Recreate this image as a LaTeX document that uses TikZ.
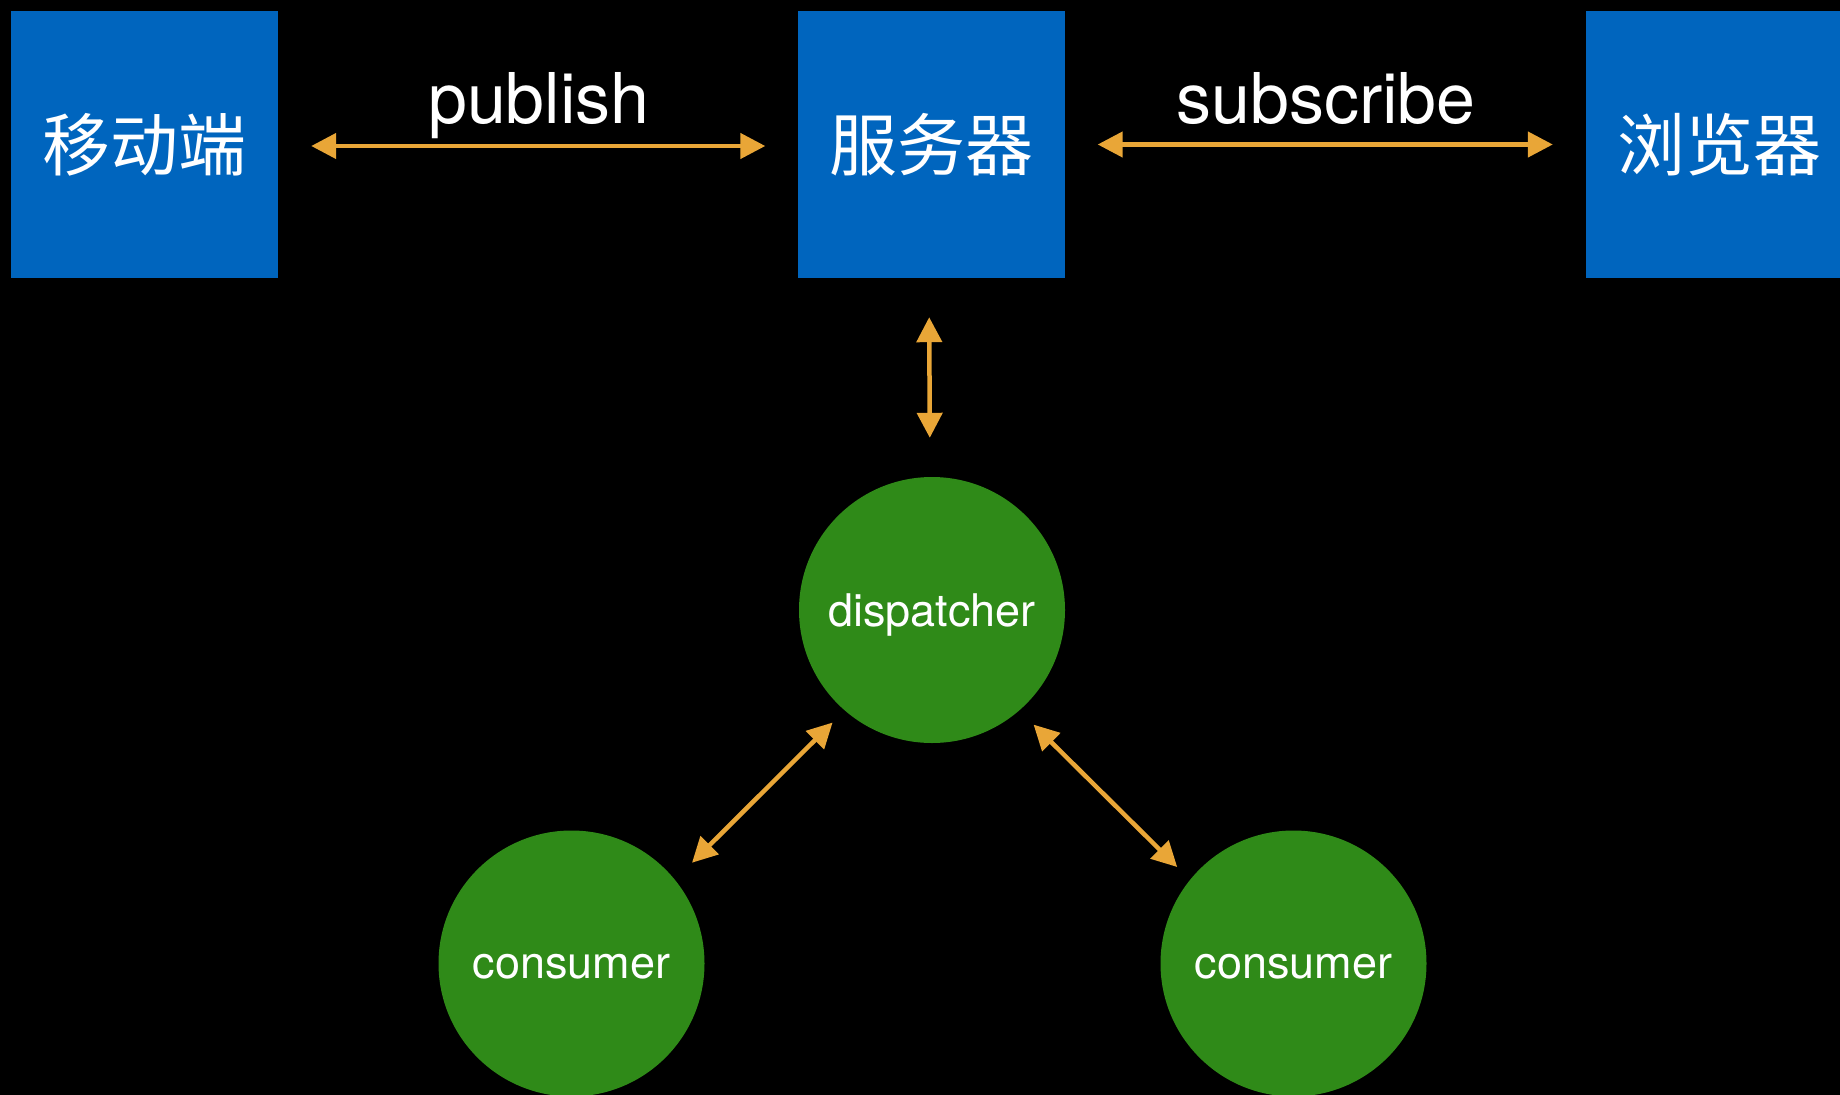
\documentclass[tikz,border=0pt]{standalone}
\usepackage{fontspec}
\setmainfont{TeX Gyre Heros}
\newfontfamily\cjk{Noto Sans CJK SC}
\usetikzlibrary{arrows.meta}
\definecolor{boxblue}{RGB}{0,101,190}
\definecolor{nodegreen}{RGB}{47,138,24}
\definecolor{arroworange}{RGB}{233,166,55}
\newcommand{\lowertext}[2]{\raisebox{-#1}[\height][\depth]{#2}}
\tikzset{
  blockbox/.style={fill=boxblue, draw=none, minimum width=267pt, minimum height=267pt, inner sep=0pt,
    text=white, font=\cjk\fontsize{68}{80}\selectfont},
  roundnode/.style={circle, fill=nodegreen, draw=none, minimum size=266pt, inner sep=0pt,
    text=white, font=\fontsize{45}{54}\selectfont},
  linklabel/.style={text=white, font=\fontsize{70}{84}\selectfont, anchor=base, inner sep=0pt},
  link/.style={draw=arroworange, line width=4.5pt, {Triangle[length=25pt,width=25pt]}-{Triangle[length=25pt,width=25pt]}}
}
\begin{document}
\begin{tikzpicture}[x=1pt,y=-1pt]
  \fill[black] (0,0) rectangle (1840,1095);
  \useasboundingbox (0,0) rectangle (1840,1095);
  \clip (0,0) rectangle (1840,1095);
  \node[blockbox] (mobile) at (144.5,144.5) {移动端};
  \node[blockbox] (server) at (931,144.5) {服务器};
  \node[blockbox] (browser) at (1719.5,144.5) {浏览器};
  \node[roundnode] (disp) at (932,610) {\lowertext{5pt}{dispatcher}};
  \node[roundnode] (cons1) at (571.5,963.5) {\lowertext{3.5pt}{consumer}};
  \node[roundnode] (cons2) at (1293.5,963.5) {\lowertext{3.5pt}{consumer}};
  \draw[link, shorten <=33pt, shorten >=32pt] ([yshift=-1.5pt]mobile.east) -- ([yshift=-1.5pt]server.west);
  \draw[link, shorten <=33pt, shorten >=33pt] (server.east) -- (browser.west);
  \draw[link, shorten <=39pt, shorten >=39pt] ([xshift=-2pt]server.south) -- ([xshift=-2pt]disp.north);
  \draw[link, shorten <=24pt, shorten >=17pt] (cons1.39) -- (disp.229);
  \draw[link, shorten <=20pt, shorten >=18pt] (disp.311) -- (cons2.141);
  \node[linklabel] (publab) at (539,123) {publish};
  \node[linklabel] (sublab) at (1326,123) {subscribe};
\end{tikzpicture}
\end{document}
